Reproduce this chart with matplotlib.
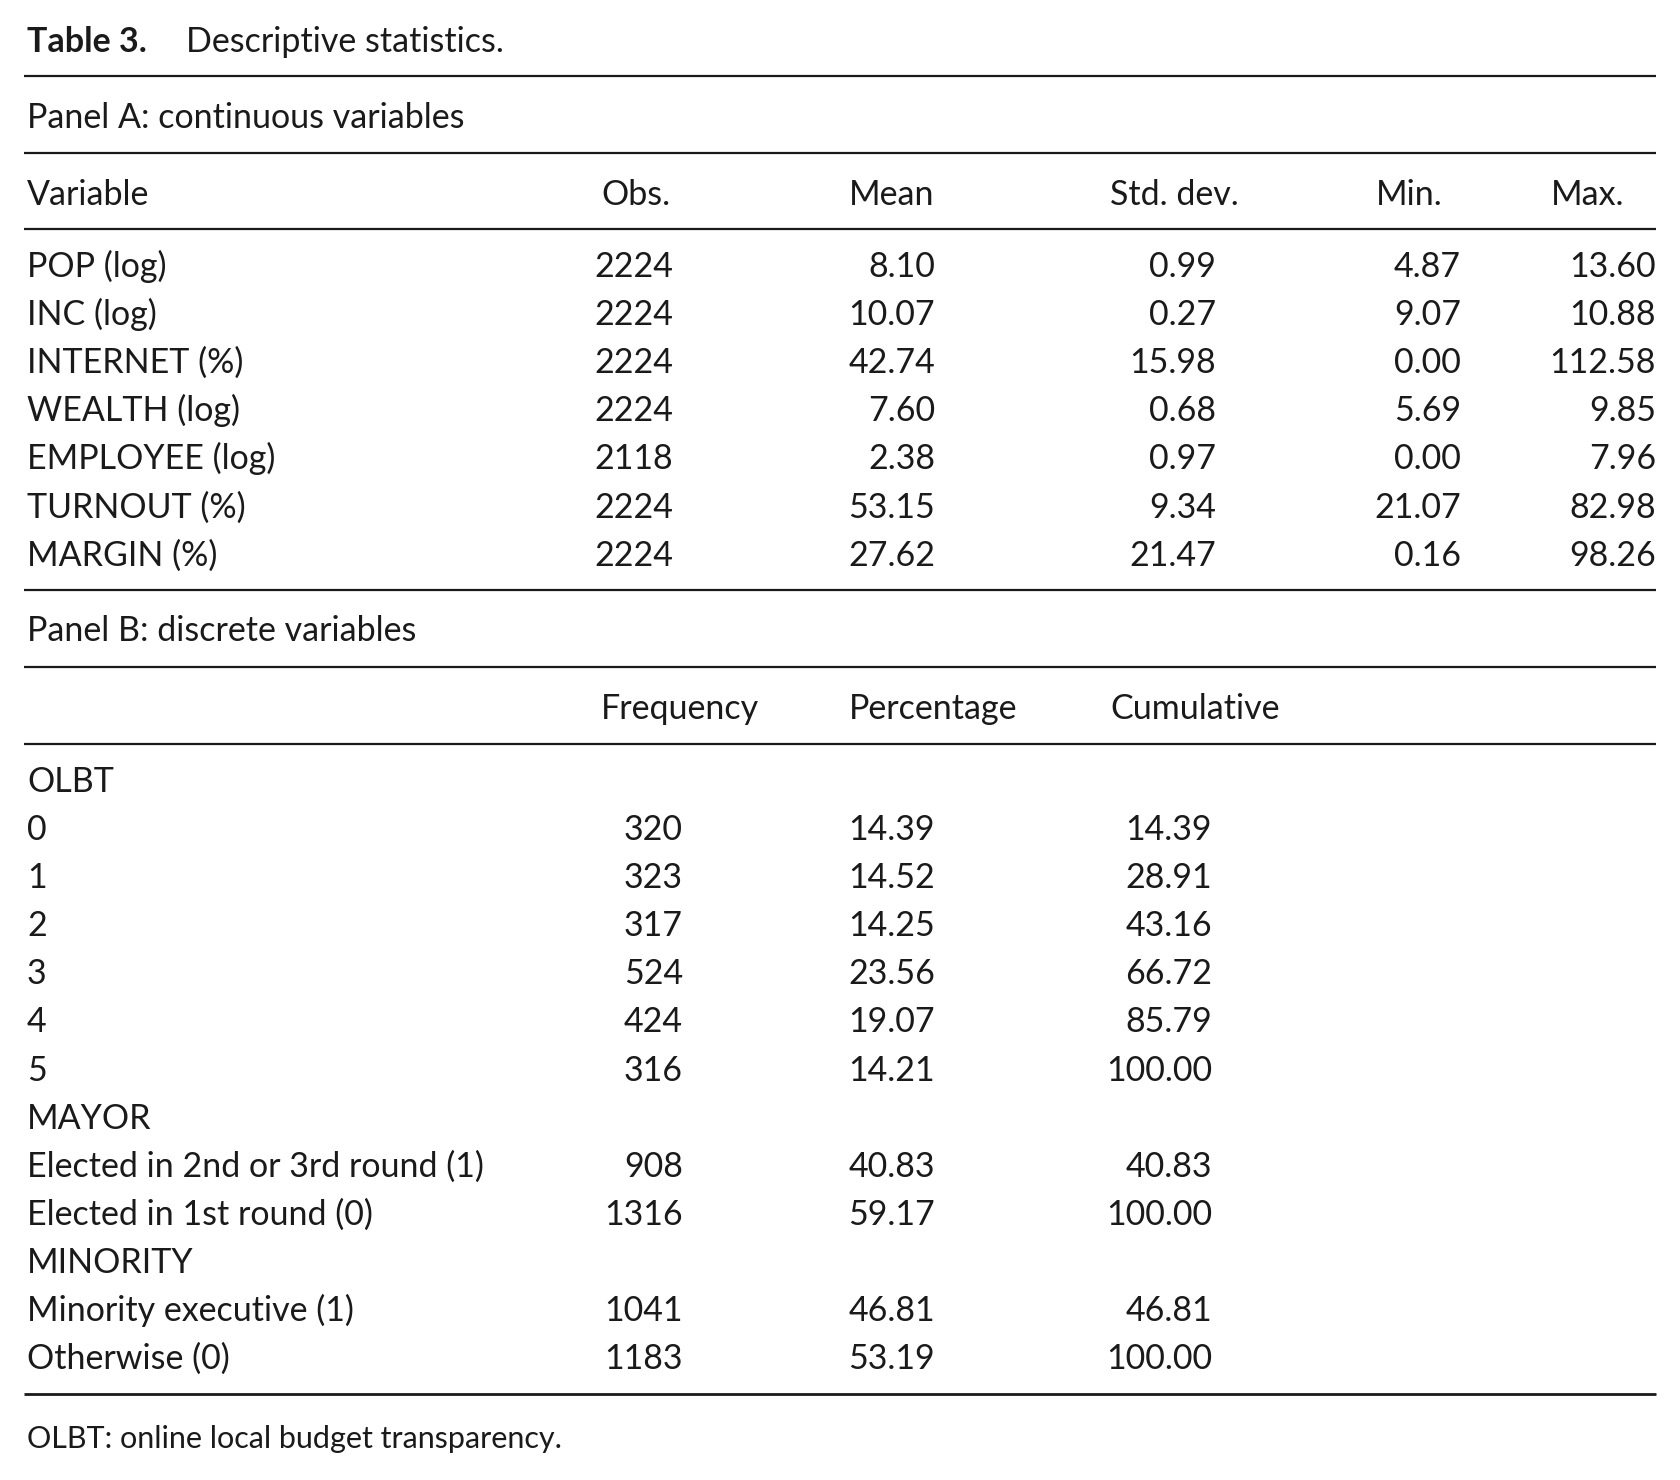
import matplotlib.pyplot as plt

# Descriptive statistics table, drawn as text on an axes in pixel units.

plt.rcParams['font.family'] = ['Lato', 'DejaVu Sans']

title_bold = "Table 3."
title_rest = "Descriptive statistics."
panel_a = "Panel A: continuous variables"
panel_b = "Panel B: discrete variables"
footnote = "OLBT: online local budget transparency."

cont_header = ["Variable", "Obs.", "Mean", "Std. dev.", "Min.", "Max."]
cont_vars = ["POP (log)", "INC (log)", "INTERNET (%)", "WEALTH (log)",
             "EMPLOYEE (log)", "TURNOUT (%)", "MARGIN (%)"]
cont_obs = [2224, 2224, 2224, 2224, 2118, 2224, 2224]
cont_mean = [8.10, 10.07, 42.74, 7.60, 2.38, 53.15, 27.62]
cont_sd = [0.99, 0.27, 15.98, 0.68, 0.97, 9.34, 21.47]
cont_min = [4.87, 9.07, 0.00, 5.69, 0.00, 21.07, 0.16]
cont_max = [13.60, 10.88, 112.58, 9.85, 7.96, 82.98, 98.26]

disc_header = ["Frequency", "Percentage", "Cumulative"]
disc_groups = ["OLBT", "MAYOR", "MINORITY"]
disc_labels = [["0", "1", "2", "3", "4", "5"],
               ["Elected in 2nd or 3rd round (1)", "Elected in 1st round (0)"],
               ["Minority executive (1)", "Otherwise (0)"]]
disc_freq = [[320, 323, 317, 524, 424, 316], [908, 1316], [1041, 1183]]
disc_pct = [[14.39, 14.52, 14.25, 23.56, 19.07, 14.21], [40.83, 59.17],
            [46.81, 53.19]]
disc_cum = [[14.39, 28.91, 43.16, 66.72, 85.79, 100.00], [40.83, 100.00],
            [46.81, 100.00]]

W, H = 1681, 1480
fig = plt.figure(figsize=(W / 100, H / 100), dpi=100)
ax = fig.add_axes([0, 0, 1, 1])
ax.set_xlim(0, W)
ax.set_ylim(H, 0)
ax.set_axis_off()

FS = 24.5
COL = '#1a1a1a'
x_left = 27
x_rule0, x_rule1 = 24, 1656
row_h = 48.1
base_off = 12


def put(x, yc, s, ha='left', size=FS, weight='normal'):
    ax.text(x, yc + base_off, s, ha=ha, va='baseline', fontsize=size,
            fontweight=weight, color=COL)


def rule(y, lw=1.6):
    ax.plot([x_rule0, x_rule1], [y, y], color=COL, lw=lw,
            solid_capstyle='butt')


# title
put(x_left, 40, title_bold, weight='bold')
put(186, 40, title_rest)
rule(76)

# panel A
put(x_left, 116, panel_a)
rule(153)
head_x = [x_left, 601, 849, 1110, 1376, 1551]
for x, h in zip(head_x, cont_header):
    put(x, 193, h)
rule(229)

val_right = [673, 935, 1216, 1461, 1656]
y0 = 265
for i, name in enumerate(cont_vars):
    y = y0 + i * row_h
    put(x_left, y, name)
    put(val_right[0], y, str(cont_obs[i]), ha='right')
    for x, col in zip(val_right[1:], [cont_mean, cont_sd, cont_min, cont_max]):
        put(x, y, f"{col[i]:.2f}", ha='right')
rule(590)

# panel B
put(x_left, 629, panel_b)
rule(667)
for x, h in zip([601, 849, 1110], disc_header):
    put(x, 707, h)
rule(744)

disc_right = [683, 935, 1212]
y = 780
for g, grp in enumerate(disc_groups):
    put(x_left, y, grp)
    y += row_h
    for j, lab in enumerate(disc_labels[g]):
        put(x_left, y, lab)
        put(disc_right[0], y, str(disc_freq[g][j]), ha='right')
        put(disc_right[1], y, f"{disc_pct[g][j]:.2f}", ha='right')
        put(disc_right[2], y, f"{disc_cum[g][j]:.2f}", ha='right')
        y += row_h
rule(1394, lw=2.0)

put(x_left, 1436, footnote, size=22)

fig.savefig("out.png", dpi=100, facecolor='white')
